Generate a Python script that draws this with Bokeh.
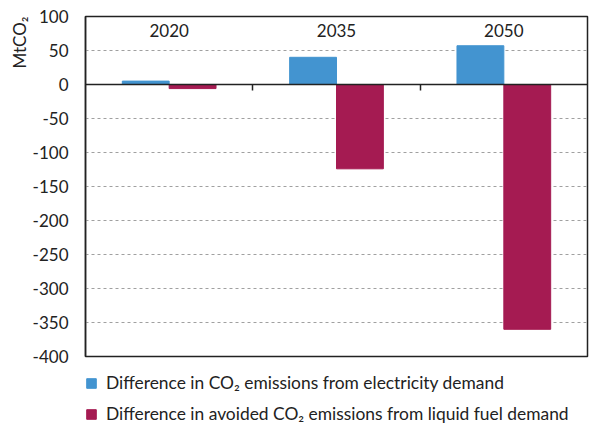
from bokeh.plotting import figure
from bokeh.models import (Range1d, LinearAxis, FixedTicker, ColumnDataSource,
                          Legend, LegendItem, Title, CustomJSTickFormatter)
from bokeh.transform import dodge
from bokeh.core.properties import value
from bokeh.embed import file_html
from bokeh.resources import INLINE

years = ["2020", "2035", "2050"]
electricity = [5, 40, 57]
liquid_fuel = [-6, -124, -360]
y_ticks = [100, 50, 0, -50, -100, -150, -200, -250, -300, -350, -400]
series_names = ["Difference in CO\u2082 emissions from electricity demand",
                "Difference in avoided CO\u2082 emissions from liquid fuel demand"]
label_y = 79

FONT = "Lato"
BLUE = "#4394D0"
RED = "#A51B52"
TXT = "#222222"

n = len(years)
src = ColumnDataSource(dict(year=years, xc=[i + 0.5 for i in range(n)],
                            elec=electricity, liq=liquid_fuel, ly=[label_y] * n))

p = figure(frame_width=502, frame_height=340, x_range=Range1d(0, n), y_range=Range1d(-400, 100),
           output_backend="svg", toolbar_location=None,
           min_border_left=85, min_border_right=3, min_border_top=16, min_border_bottom=0,
           x_axis_location=None)
p.outline_line_color = "#222222"
p.outline_line_width = 1.5
p.xgrid.visible = False
p.ygrid.ticker = FixedTicker(ticks=y_ticks)
p.ygrid.grid_line_color = "#A0A0A0"
p.ygrid.grid_line_dash = "3 3"
p.ygrid.grid_line_width = 1

yax = p.yaxis[0]
yax.ticker = FixedTicker(ticks=y_ticks)
yax.formatter = CustomJSTickFormatter(code="return tick.toString()")
yax.major_tick_line_color = None
yax.minor_tick_line_color = None
yax.axis_line_color = "#222222"
yax.axis_line_width = 1.5
yax.major_label_text_font = FONT
yax.major_label_text_font_size = "17px"
yax.major_label_text_color = TXT
yax.major_label_standoff = 11

r1 = p.vbar(x=dodge("xc", -0.14), top="elec", bottom=0, width=0.28,
            source=src, fill_color=BLUE, line_color=BLUE)
r2 = p.vbar(x=dodge("xc", 0.14), top=0, bottom="liq", width=0.28,
            source=src, fill_color=RED, line_color=RED)

# category labels inside the frame
p.text(x="xc", y="ly", text="year", source=src, text_align="center", text_baseline="middle",
       text_font=value(FONT), text_font_size="17px", text_color=TXT)

# y-axis unit
p.add_layout(Title(text="MtCO\u2082", align="right", text_font=FONT, text_font_size="17px",
                   text_font_style="normal", text_color=TXT, standoff=0), "left")

legend = Legend(items=[LegendItem(label=series_names[0], renderers=[r1]),
                       LegendItem(label=series_names[1], renderers=[r2])],
                location="top_left", orientation="vertical",
                title=" ", title_text_font_size="1px", title_standoff=15,
                padding=0, margin=0, spacing=10, border_line_color=None,
                background_fill_alpha=0, glyph_width=12, glyph_height=12,
                label_height=20, label_standoff=9,
                label_text_font=FONT, label_text_font_size="17.4px", label_text_color=TXT)
p.add_layout(legend, "below")

# zero axis with ticks between categories
zax = LinearAxis(fixed_location=0,
                 ticker=FixedTicker(ticks=list(range(1, n))),
                 major_tick_in=0, major_tick_out=6, minor_tick_line_color=None,
                 axis_line_color="#222222", axis_line_width=1.5,
                 major_tick_line_color="#222222", major_tick_line_width=1.5,
                 formatter=CustomJSTickFormatter(code="return ''"),
                 major_label_text_font_size="0px")
p.add_layout(zax, "below")

open("out.html", "w").write(file_html(p, INLINE))
